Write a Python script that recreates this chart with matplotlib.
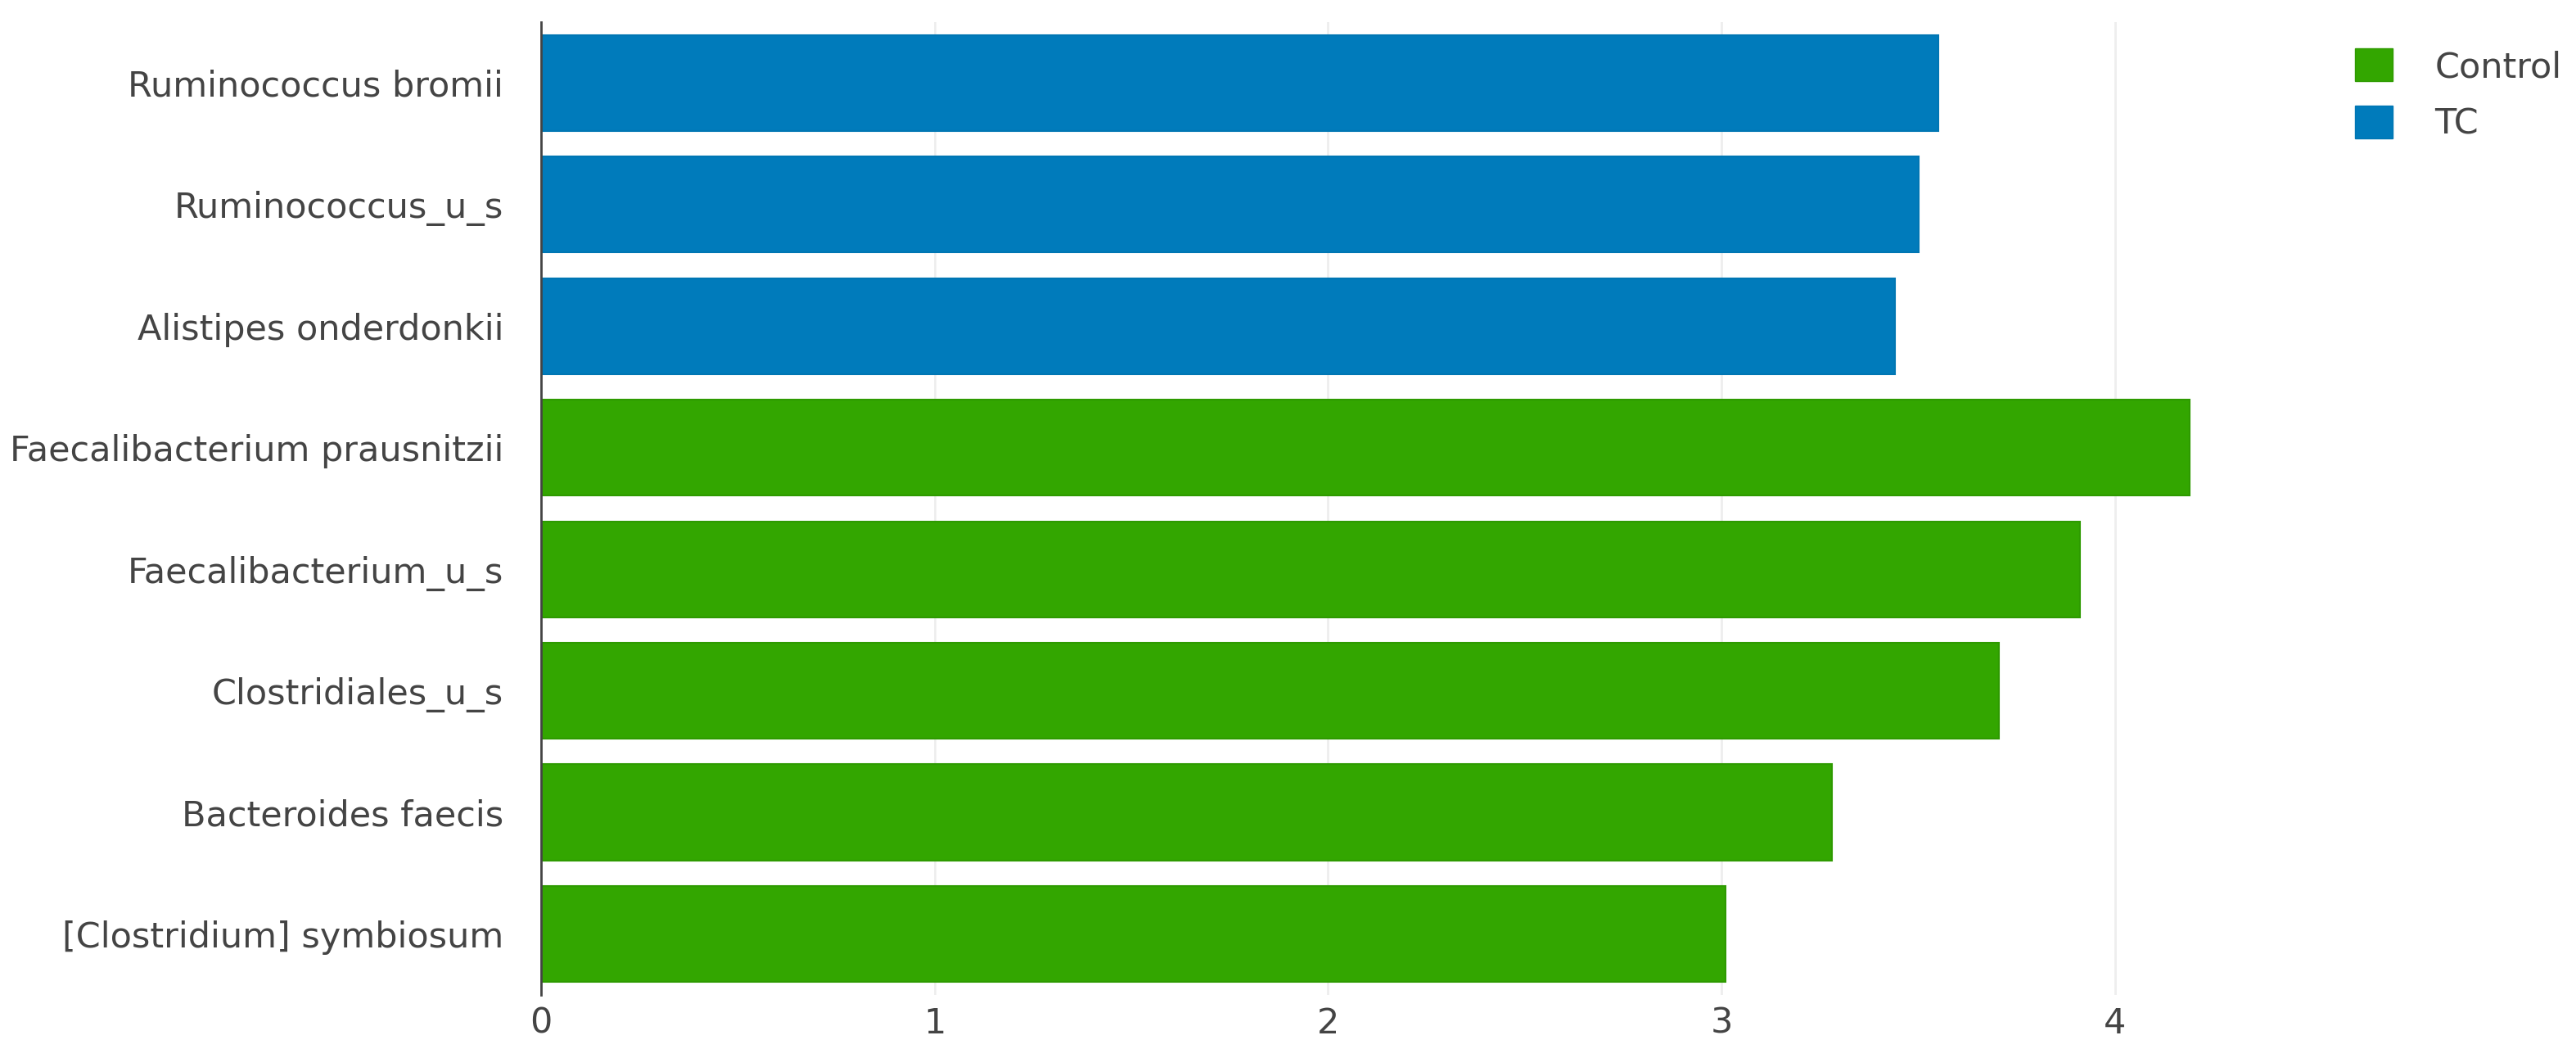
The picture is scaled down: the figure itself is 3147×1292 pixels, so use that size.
import matplotlib
matplotlib.use("Agg")
from matplotlib import pyplot as plt
from matplotlib.patches import Patch

# species, top to bottom
species = [
    "Ruminococcus bromii",
    "Ruminococcus_u_s",
    "Alistipes onderdonkii",
    "Faecalibacterium prausnitzii",
    "Faecalibacterium_u_s",
    "Clostridiales_u_s",
    "Bacteroides faecis",
    "[Clostridium] symbiosum",
]
# LDA scores
scores = [3.55, 3.50, 3.44, 4.19, 3.91, 3.705, 3.28, 3.01]
groups = ["TC", "TC", "TC", "Control", "Control", "Control", "Control", "Control"]

group_names = ["Control", "TC"]
group_colors = {"Control": "#33a600", "TC": "#007bbb"}
edge_colors = {"Control": "#2e9a00", "TC": "#0076b3"}

TEXT = "#444444"

fig = plt.figure(figsize=(31.47, 12.92), dpi=100)
ax = fig.add_axes([0.21, 0.0597, 0.6737, 0.9194])

pos = list(range(len(species)))
ax.barh(pos, scores, height=0.79,
        color=[group_colors[g] for g in groups],
        edgecolor=[edge_colors[g] for g in groups], linewidth=1.5,
        zorder=2)

ax.set_ylim(len(species) - 0.5, -0.5)
ax.set_xlim(0, 4.41)
ax.set_yticks(pos)
ax.set_yticklabels(species)
ax.set_xticks([0, 1, 2, 3, 4])

for s in ["top", "right", "bottom"]:
    ax.spines[s].set_visible(False)
ax.spines["left"].set_color("#444444")
ax.spines["left"].set_linewidth(2)
ax.spines["left"].set_zorder(3)

ax.grid(axis="x", color="#eeeeee", linewidth=2, zorder=0)
ax.tick_params(axis="both", length=0, labelsize=31, colors=TEXT)
ax.tick_params(axis="y", pad=33)
ax.tick_params(axis="x", pad=10)

handles = [Patch(facecolor=group_colors[g], edgecolor=edge_colors[g]) for g in group_names]
fig.legend(handles, group_names, loc="upper left", bbox_to_anchor=(0.902, 0.984),
           frameon=False, fontsize=31, labelcolor=TEXT,
           handlelength=1.05, handleheight=1.05, handletextpad=1.2,
           labelspacing=0.6)

fig.savefig("out.png", dpi=100, facecolor="white")
